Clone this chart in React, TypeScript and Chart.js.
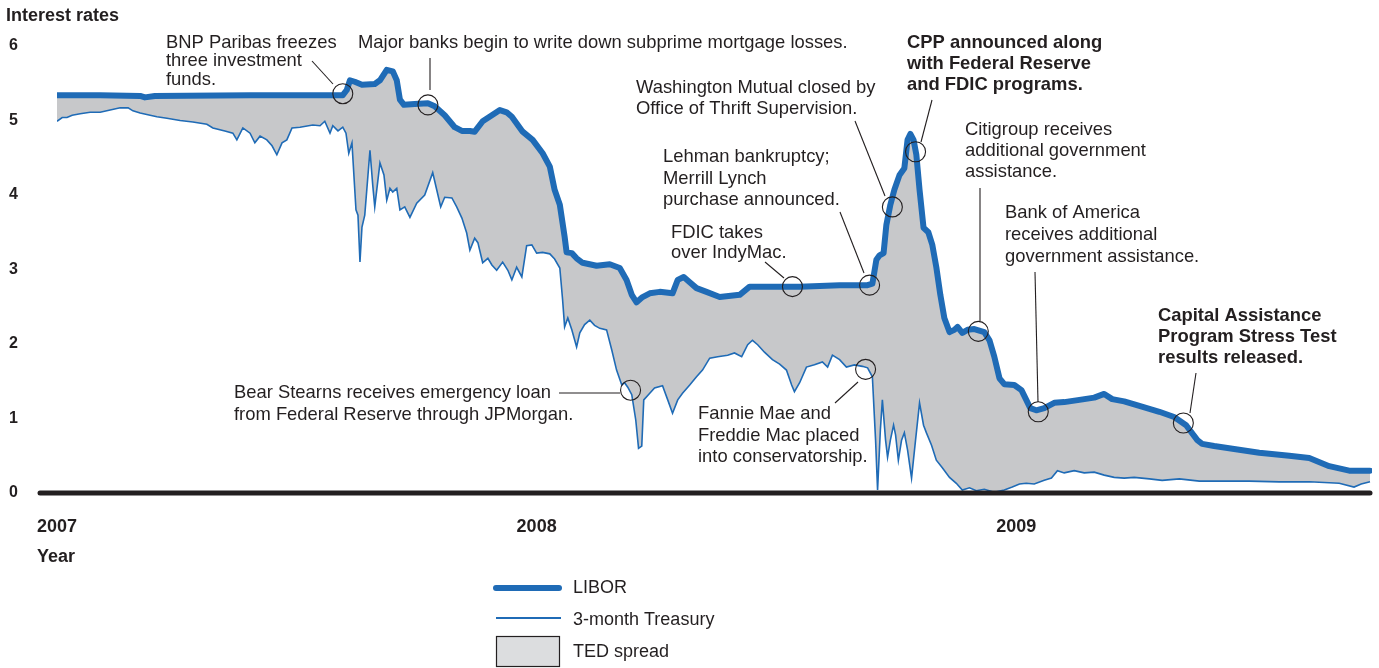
import React, { useEffect, useRef } from "react";
import { Chart, registerables } from "chart.js";

Chart.register(...registerables);

// x = months since January 2007
const yearTickValues = [0, 12, 24];
const yearTickLabels = ["2007", "2008", "2009"];
const yTickValues = [0, 1, 2, 3, 4, 5, 6];

const liborMonths = [0, 1.08, 2.08, 2.2, 2.45, 4.83, 7.15, 7.25, 7.33, 7.45, 7.63, 7.95, 8.08, 8.25, 8.4, 8.5, 8.58, 8.68, 8.95, 9.28, 9.45, 9.7, 9.95, 10.13, 10.33, 10.45, 10.65, 10.88, 11.08, 11.25, 11.38, 11.65, 11.9, 12.15, 12.33, 12.45, 12.58, 12.7, 12.75, 12.88, 13.0, 13.15, 13.5, 13.83, 14.08, 14.25, 14.38, 14.5, 14.65, 14.83, 15.08, 15.4, 15.53, 15.68, 15.83, 16.0, 16.25, 16.58, 17.08, 17.33, 17.9, 18.58, 19.58, 20.28, 20.4, 20.5, 20.58, 20.68, 20.75, 20.85, 20.95, 21.08, 21.2, 21.28, 21.35, 21.43, 21.5, 21.58, 21.68, 21.8, 21.9, 22.0, 22.1, 22.2, 22.33, 22.45, 22.53, 22.65, 22.78, 22.95, 23.2, 23.33, 23.45, 23.58, 23.7, 23.95, 24.13, 24.25, 24.35, 24.5, 24.7, 24.95, 25.2, 25.58, 25.95, 26.2, 26.4, 26.7, 27.08, 27.58, 27.95, 28.25, 28.53, 28.65, 28.95, 29.45, 30.08, 30.83, 31.33, 31.83, 32.33, 32.85];
const liborValues = [5.34, 5.34, 5.33, 5.31, 5.33, 5.34, 5.34, 5.41, 5.54, 5.52, 5.48, 5.49, 5.54, 5.68, 5.66, 5.54, 5.28, 5.21, 5.22, 5.23, 5.19, 5.07, 4.91, 4.86, 4.86, 4.85, 4.99, 5.07, 5.14, 5.11, 5.05, 4.85, 4.74, 4.56, 4.38, 4.07, 3.87, 3.44, 3.23, 3.22, 3.15, 3.09, 3.05, 3.07, 3.02, 2.86, 2.66, 2.56, 2.63, 2.68, 2.7, 2.68, 2.86, 2.9, 2.83, 2.75, 2.7, 2.63, 2.66, 2.77, 2.77, 2.77, 2.79, 2.79, 2.81, 3.13, 3.19, 3.22, 3.6, 3.87, 4.07, 4.27, 4.36, 4.74, 4.82, 4.74, 4.54, 4.07, 3.56, 3.5, 3.33, 3.03, 2.66, 2.35, 2.16, 2.19, 2.23, 2.15, 2.19, 2.2, 2.16, 2.05, 1.83, 1.54, 1.46, 1.45, 1.38, 1.25, 1.14, 1.11, 1.14, 1.21, 1.22, 1.25, 1.28, 1.33, 1.26, 1.23, 1.17, 1.09, 1.02, 0.91, 0.71, 0.66, 0.63, 0.59, 0.54, 0.5, 0.47, 0.36, 0.3, 0.3];

const treasuryMonths = [0, 0.13, 0.25, 0.38, 0.58, 0.83, 1.08, 1.33, 1.58, 1.78, 1.9, 2.08, 2.33, 2.5, 2.75, 3.08, 3.4, 3.75, 3.9, 4.2, 4.4, 4.5, 4.65, 4.83, 4.95, 5.08, 5.25, 5.38, 5.5, 5.63, 5.75, 5.88, 6.08, 6.4, 6.58, 6.7, 6.83, 6.9, 7.03, 7.15, 7.23, 7.3, 7.38, 7.48, 7.53, 7.58, 7.63, 7.7, 7.83, 7.9, 7.95, 8.08, 8.18, 8.25, 8.33, 8.4, 8.5, 8.58, 8.7, 8.83, 9.0, 9.2, 9.4, 9.5, 9.6, 9.7, 9.88, 10.0, 10.13, 10.25, 10.33, 10.45, 10.53, 10.65, 10.78, 10.88, 11.0, 11.15, 11.28, 11.38, 11.5, 11.63, 11.75, 11.88, 12.0, 12.15, 12.33, 12.45, 12.58, 12.65, 12.7, 12.78, 12.88, 13.0, 13.08, 13.2, 13.33, 13.45, 13.58, 13.75, 13.88, 14.0, 14.13, 14.2, 14.28, 14.38, 14.48, 14.55, 14.63, 14.68, 14.83, 14.95, 15.15, 15.28, 15.4, 15.53, 15.65, 15.83, 16.0, 16.15, 16.33, 16.53, 16.78, 16.95, 17.13, 17.28, 17.4, 17.53, 17.7, 17.9, 18.08, 18.25, 18.38, 18.45, 18.58, 18.75, 18.95, 19.15, 19.28, 19.4, 19.58, 19.75, 19.95, 20.15, 20.28, 20.4, 20.48, 20.53, 20.6, 20.65, 20.73, 20.78, 20.85, 20.93, 20.98, 21.05, 21.13, 21.2, 21.28, 21.38, 21.48, 21.58, 21.68, 21.75, 21.88, 22.0, 22.15, 22.33, 22.5, 22.65, 22.83, 23.0, 23.2, 23.45, 23.7, 23.9, 24.08, 24.25, 24.45, 24.7, 24.88, 25.03, 25.2, 25.45, 25.7, 25.95, 26.2, 26.45, 26.7, 26.95, 27.33, 27.65, 28.08, 28.58, 29.2, 29.83, 30.58, 31.33, 32.08, 32.45, 32.63, 32.85];
const treasuryValues = [4.99, 5.04, 5.04, 5.07, 5.09, 5.11, 5.11, 5.14, 5.17, 5.17, 5.13, 5.1, 5.07, 5.05, 5.03, 5.0, 4.98, 4.95, 4.9, 4.86, 4.83, 4.74, 4.9, 4.83, 4.7, 4.79, 4.74, 4.66, 4.54, 4.7, 4.74, 4.9, 4.91, 4.94, 4.93, 4.99, 4.83, 4.93, 4.86, 4.91, 4.83, 4.56, 4.7, 3.8, 3.73, 3.1, 3.57, 3.73, 4.6, 4.13, 3.84, 4.43, 4.27, 3.93, 4.09, 4.04, 4.09, 3.8, 3.84, 3.7, 3.89, 4.0, 4.3, 4.07, 3.84, 3.97, 3.96, 3.84, 3.69, 3.49, 3.26, 3.42, 3.36, 3.09, 3.15, 3.06, 2.99, 3.1, 2.99, 2.86, 3.03, 2.9, 3.32, 3.33, 3.22, 3.23, 3.21, 3.14, 3.02, 2.59, 2.23, 2.35, 2.19, 1.96, 2.15, 2.26, 2.32, 2.25, 2.21, 2.19, 1.92, 1.65, 1.45, 1.48, 1.42, 1.32, 0.98, 0.6, 0.63, 1.25, 1.34, 1.41, 1.44, 1.25, 1.07, 1.25, 1.34, 1.45, 1.56, 1.65, 1.81, 1.83, 1.85, 1.88, 1.83, 1.99, 2.05, 1.99, 1.89, 1.79, 1.73, 1.65, 1.45, 1.36, 1.48, 1.69, 1.72, 1.76, 1.69, 1.85, 1.79, 1.69, 1.72, 1.7, 1.68, 1.56, 0.71, 0.04, 0.85, 1.25, 0.71, 0.48, 0.71, 0.91, 0.78, 0.44, 0.71, 0.81, 0.58, 0.2, 0.71, 1.21, 0.91, 0.81, 0.64, 0.44, 0.34, 0.21, 0.13, 0.04, 0.07, 0.03, 0.05, 0.01, 0.04, 0.08, 0.12, 0.13, 0.12, 0.17, 0.2, 0.3, 0.27, 0.3, 0.27, 0.28, 0.24, 0.21, 0.2, 0.21, 0.19, 0.17, 0.19, 0.16, 0.16, 0.16, 0.15, 0.15, 0.13, 0.08, 0.12, 0.15];

const eventTexts = [
  ["BNP Paribas freezes", "three investment", "funds."],
  ["Major banks begin to write down subprime mortgage losses."],
  ["Bear Stearns receives emergency loan", "from Federal Reserve through JPMorgan."],
  ["FDIC takes", "over IndyMac."],
  ["Lehman bankruptcy;", "Merrill Lynch", "purchase announced."],
  ["Fannie Mae and", "Freddie Mac placed", "into conservatorship."],
  ["Washington Mutual closed by", "Office of Thrift Supervision."],
  ["CPP announced along", "with Federal Reserve", "and FDIC programs."],
  ["Citigroup receives", "additional government", "assistance."],
  ["Bank of America", "receives additional", "government assistance."],
  ["Capital Assistance", "Program Stress Test", "results released."],
];
const eventMonths = [7.15, 9.28, 14.35, 18.4, 20.33, 20.23, 20.9, 21.48, 23.05, 24.55, 28.18];
const eventValues = [5.36, 5.21, 1.38, 2.77, 2.79, 1.66, 3.84, 4.58, 2.17, 1.09, 0.94];

const legendLabels = ["LIBOR", "3-month Treasury", "TED spread"];

const BLUE = "#1f6bb6";
const INK = "#231f20";
const FILL = "#c7c8ca";
const FONT = "'Liberation Sans', Arial, Helvetica, sans-serif";

// layout of the note texts (pixels)
const noteLayout = [
  { x: 166, y: 43, lh: 18.3, bold: false, leader: [[312, 61], [333, 84]] },
  { x: 358, y: 43, lh: 21, bold: false, leader: [[430, 58], [430, 90]] },
  { x: 234, y: 393, lh: 21.5, bold: false, leader: [[559, 393], [620, 393]] },
  { x: 671, y: 233, lh: 19.5, bold: false, leader: [[765, 262], [784, 278]] },
  { x: 663, y: 157, lh: 21.5, bold: false, leader: [[840, 212], [864, 273]] },
  { x: 698, y: 414, lh: 21.5, bold: false, leader: [[835, 403], [858, 382]] },
  { x: 636, y: 88, lh: 20.5, bold: false, leader: [[855, 121], [885, 196]] },
  { x: 907, y: 43, lh: 21, bold: true, leader: [[932, 100], [921, 142]] },
  { x: 965, y: 130, lh: 21, bold: false, leader: [[980, 188], [980, 321]] },
  { x: 1005, y: 213, lh: 22, bold: false, leader: [[1035, 272], [1038, 402]] },
  { x: 1158, y: 316, lh: 21, bold: true, leader: [[1196, 373], [1190, 413]] },
];

const decorPlugin = {
  id: "decor",
  afterDatasetsDraw(chart: any) {
    const { ctx, scales } = chart;
    const xs = scales.x;
    const ys = scales.y;
    const y0 = ys.getPixelForValue(0);
    ctx.save();
    // baseline
    ctx.strokeStyle = INK;
    ctx.lineWidth = 5;
    ctx.lineCap = "round";
    ctx.beginPath();
    ctx.moveTo(40, y0);
    ctx.lineTo(xs.right - 2, y0);
    ctx.stroke();

    // event circles, leaders and texts
    ctx.lineCap = "butt";
    eventTexts.forEach((lines, i) => {
      const L = noteLayout[i];
      const cx = xs.getPixelForValue(eventMonths[i]);
      const cy = ys.getPixelForValue(eventValues[i]);
      ctx.strokeStyle = INK;
      ctx.lineWidth = 1.1;
      ctx.beginPath();
      ctx.arc(cx, cy, 10, 0, Math.PI * 2);
      ctx.stroke();
      ctx.beginPath();
      ctx.moveTo(L.leader[0][0], L.leader[0][1]);
      ctx.lineTo(L.leader[1][0], L.leader[1][1]);
      ctx.stroke();
      ctx.fillStyle = INK;
      ctx.font = `${L.bold ? "bold " : ""}18.4px ${FONT}`;
      ctx.textAlign = "left";
      ctx.textBaseline = "middle";
      lines.forEach((t, k) => ctx.fillText(t, L.x, L.y + k * L.lh));
    });

    // titles
    ctx.font = `bold 18px ${FONT}`;
    ctx.fillText("Interest rates", 6, 16);
    ctx.fillText("Year", 37, 557);

    // legend
    ctx.font = `18px ${FONT}`;
    ctx.strokeStyle = BLUE;
    ctx.lineCap = "round";
    ctx.lineWidth = 6;
    ctx.beginPath();
    ctx.moveTo(496, 588);
    ctx.lineTo(559, 588);
    ctx.stroke();
    ctx.lineCap = "butt";
    ctx.lineWidth = 2;
    ctx.beginPath();
    ctx.moveTo(496, 618);
    ctx.lineTo(561, 618);
    ctx.stroke();
    ctx.fillStyle = "#dcdddf";
    ctx.fillRect(496.5, 636.5, 63, 30);
    ctx.strokeStyle = INK;
    ctx.lineWidth = 1.2;
    ctx.strokeRect(496.5, 636.5, 63, 30);
    ctx.fillStyle = INK;
    ctx.fillText(legendLabels[0], 573, 588);
    ctx.fillText(legendLabels[1], 573, 620);
    ctx.fillText(legendLabels[2], 573, 652);
    ctx.restore();
  },
};

export default function App() {
  const ref = useRef<HTMLCanvasElement>(null);
  useEffect(() => {
    if (!ref.current) return;
    const chart = new Chart(ref.current, {
      type: "line",
      data: {
        datasets: [
          {
            label: legendLabels[0],
            data: liborMonths.map((m, i) => ({ x: m, y: liborValues[i] })),
            borderColor: BLUE,
            borderWidth: 6,
            pointRadius: 0,
            tension: 0,
            fill: false,
            borderJoinStyle: "round",
            borderCapStyle: "round",
          },
          {
            label: legendLabels[1],
            data: treasuryMonths.map((m, i) => ({ x: m, y: treasuryValues[i] })),
            borderColor: BLUE,
            borderWidth: 1.6,
            pointRadius: 0,
            tension: 0,
            fill: { target: 0 },
            backgroundColor: FILL,
          },
        ],
      },
      options: {
        animation: false,
        responsive: false,
        layout: { padding: { left: 9, top: 46, right: 7, bottom: 115 } },
        plugins: {
          legend: { display: false },
          tooltip: { enabled: false },
          filler: { drawTime: "beforeDatasetsDraw" },
        },
        scales: {
          x: {
            type: "linear",
            min: 0,
            max: 32.9,
            grid: { display: false, drawTicks: false },
            border: { display: false },
            afterFit: (s: any) => {
              s.height = 60;
            },
            afterBuildTicks: (s: any) => {
              s.ticks = yearTickValues.map((v) => ({ value: v }));
            },
            ticks: {
              padding: 23,
              autoSkip: false,
              maxRotation: 0,
              color: INK,
              font: { family: FONT, size: 18, weight: "bold" },
              callback: (v: any) => yearTickLabels[yearTickValues.indexOf(Number(v))] ?? "",
            },
          },
          y: {
            type: "linear",
            min: 0,
            max: 6,
            grid: { display: false, drawTicks: false },
            border: { display: false },
            afterFit: (s: any) => {
              s.width = 48;
            },
            afterBuildTicks: (s: any) => {
              s.ticks = yTickValues.map((v) => ({ value: v }));
            },
            ticks: {
              crossAlign: "far",
              color: INK,
              font: { family: FONT, size: 16, weight: "bold" },
            },
          },
        },
      },
      plugins: [decorPlugin],
    } as any);
    return () => chart.destroy();
  }, []);
  return (
    <div style={{ position: "fixed", left: 0, top: 0, width: 1379, height: 668, background: "#fff" }}>
      <canvas ref={ref} width={1379} height={668} style={{ display: "block" }} />
    </div>
  );
}
